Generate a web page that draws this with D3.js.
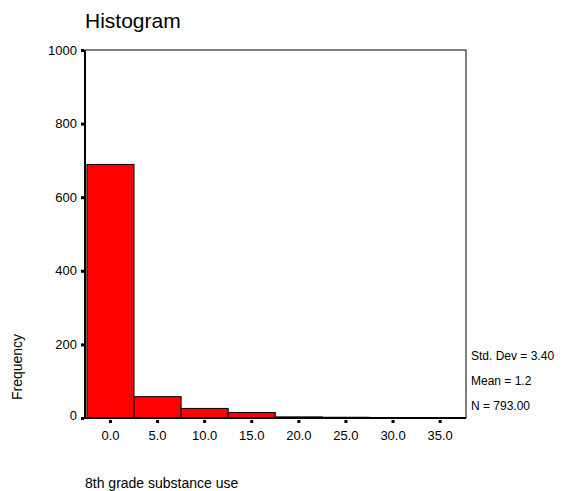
<!DOCTYPE html>
<html><head><meta charset="utf-8">
<script src="https://cdn.jsdelivr.net/npm/d3@7"></script>
<style>body{margin:0;background:#fff}svg{display:block;font-family:"Liberation Sans",Arial,sans-serif}</style>
</head><body><div id="c"></div>
<script>
const binCenters = [0, 5, 10, 15, 20, 25, 30, 35];
const binCounts = [689, 58, 26, 15, 3, 2, 0, 0];
const binWidth = 5;
const yTicks = [0, 200, 400, 600, 800, 1000];
const xTickLabels = ["0.0", "5.0", "10.0", "15.0", "20.0", "25.0", "30.0", "35.0"];
const statsLines = ["Std. Dev = 3.40", "Mean = 1.2", "N = 793.00"];
const title = "Histogram";
const yTitle = "Frequency";
const xTitle = "8th grade substance use";

const W = 572, H = 491;
const m = {left: 85, top: 50, right: 466, bottom: 418};
const svg = d3.select("#c").append("svg").attr("width", W).attr("height", H);

const x = d3.scaleLinear().domain([-2.65, 37.8]).range([m.left, m.right]);
const y = d3.scaleLinear().domain([0, 1000]).range([m.bottom, m.top]);

// frame
svg.append("rect").attr("x", m.left).attr("y", m.top)
  .attr("width", m.right - m.left).attr("height", m.bottom - m.top)
  .attr("fill", "none").attr("stroke", "#000").attr("stroke-width", 1);

// bars
svg.append("g").selectAll("rect").data(binCenters.map((c, i) => ({c, n: binCounts[i]})).filter(d => d.n > 0))
  .join("rect")
  .attr("x", d => x(d.c - binWidth / 2) + 0.5)
  .attr("y", d => y(d.n))
  .attr("width", d => x(d.c + binWidth / 2) - x(d.c - binWidth / 2))
  .attr("height", d => y(0) - y(d.n))
  .attr("fill", "#ff0000").attr("stroke", "#000").attr("stroke-width", 1);

// axes lines (thicker left/bottom)
svg.append("line").attr("x1", m.left).attr("x2", m.left).attr("y1", m.top).attr("y2", m.bottom + 1)
  .attr("stroke", "#000").attr("stroke-width", 2);
svg.append("line").attr("x1", m.left).attr("x2", m.right).attr("y1", m.bottom).attr("y2", m.bottom)
  .attr("stroke", "#000").attr("stroke-width", 2);

// y axis
const yAxis = d3.axisLeft(y).tickValues(yTicks).tickSize(0).tickPadding(8).tickFormat(d3.format("d"));
const gy = svg.append("g").attr("transform", `translate(${m.left},0)`).call(yAxis);
gy.select(".domain").remove();
gy.selectAll("text").attr("font-size", 13).attr("fill", "#000").attr("font-family", "Liberation Sans, Arial, sans-serif");
gy.selectAll(".tick").filter(d => d === 0).select("text").attr("dy", "0.1em");
gy.selectAll(".tick").append("rect").attr("x", -4).attr("y", -1.5).attr("width", 3).attr("height", 3).attr("fill", "#000");

// x axis
const xAxis = d3.axisBottom(x).tickValues(binCenters).tickSize(0).tickPadding(13)
  .tickFormat((d, i) => xTickLabels[i]);
const gx = svg.append("g").attr("transform", `translate(0,${m.bottom})`).call(xAxis);
gx.select(".domain").remove();
gx.selectAll("text").attr("font-size", 13).attr("fill", "#000").attr("font-family", "Liberation Sans, Arial, sans-serif");
gx.selectAll(".tick").append("rect").attr("x", -1.5).attr("y", 2).attr("width", 3).attr("height", 3).attr("fill", "#000");

// titles
svg.append("text").attr("x", 85).attr("y", 28).attr("font-size", 21).attr("fill", "#000").text(title);
svg.append("text").attr("transform", "translate(22,367) rotate(-90)").attr("text-anchor", "middle")
  .attr("font-size", 14).attr("fill", "#000").text(yTitle);
svg.append("text").attr("x", 85).attr("y", 488).attr("font-size", 14).attr("fill", "#000").text(xTitle);

// stats
svg.append("g").selectAll("text").data(statsLines).join("text")
  .attr("x", 471).attr("y", (d, i) => 360 + i * 25)
  .attr("font-size", 12).attr("fill", "#000").text(d => d);
</script></body></html>
